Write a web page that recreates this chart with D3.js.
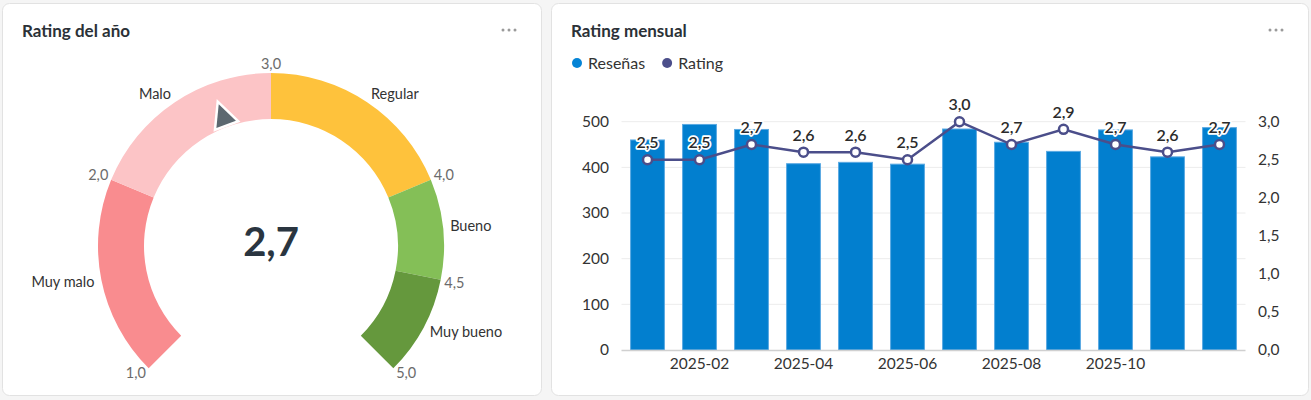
<!DOCTYPE html>
<html>
<head>
<meta charset="utf-8">
<script src="https://cdn.jsdelivr.net/npm/d3@7"></script>
<style>
  body { margin: 0; background: #f5f5f5; font-family: Lato, "Open Sans", sans-serif; }
  svg { display: block; }
</style>
</head>
<body>
<svg id="chart-svg" width="1311" height="400"></svg>
<script>
// gauge data
const bandNames = ["Muy malo", "Malo", "Regular", "Bueno", "Muy bueno"];
const bandStops = [1, 2, 3, 4, 4.5, 5];
const bandColors = ["#f98c8f", "#fcc4c6", "#fec23c", "#84bf57", "#65983d"];
const gaugeValue = 2.7;

// monthly data
const months = ["2025-01", "2025-02", "2025-03", "2025-04", "2025-05", "2025-06",
                "2025-07", "2025-08", "2025-09", "2025-10", "2025-11", "2025-12"];
const resenas = [460, 494, 483, 408, 411, 407, 484, 455, 435, 482, 423, 487];
const rating = [2.5, 2.5, 2.7, 2.6, 2.6, 2.5, 3.0, 2.7, 2.9, 2.7, 2.6, 2.7];
const xTickLabels = ["2025-02", "2025-04", "2025-06", "2025-08", "2025-10"];
const leftTicks = [0, 100, 200, 300, 400, 500];
const rightTicks = [0, 0.5, 1, 1.5, 2, 2.5, 3];

const es = d3.formatLocale({ decimal: ",", thousands: ".", grouping: [3], currency: ["", " €"] });
const f1 = es.format(".1f");

const svg = d3.select("#chart-svg");

// cards
function card(x, w, title) {
  svg.append("rect").attr("x", x + 0.5).attr("y", 3.5).attr("width", w).attr("height", 392)
     .attr("rx", 7).attr("fill", "#fff").attr("stroke", "#e2e2e2");
  svg.append("text").attr("x", x + 20).attr("y", 37).text(title)
     .attr("font-size", 17).attr("font-weight", 700).attr("fill", "#2b3137");
  [0, 6, 12].forEach(function(d) {
    svg.append("circle").attr("cx", x + w - 38 + d).attr("cy", 30).attr("r", 1.5).attr("fill", "#9a9a9a");
  });
}
card(2, 539, "Rating del año");
card(551, 757, "Rating mensual");

// ---- gauge ----
const cx = 271, cy = 246, rIn = 127, rOut = 173;
const ang = d3.scaleLinear().domain([1, 5]).range([-135 * Math.PI / 180, 135 * Math.PI / 180]);
const arc = d3.arc().innerRadius(rIn).outerRadius(rOut);
const g = svg.append("g").attr("transform", "translate(" + cx + "," + cy + ")");

bandNames.forEach(function(name, i) {
  g.append("path")
   .attr("d", arc({ startAngle: ang(bandStops[i]), endAngle: ang(bandStops[i + 1]) }))
   .attr("fill", bandColors[i]);
  const a = (ang(bandStops[i]) + ang(bandStops[i + 1])) / 2;
  const shift = (i === 1 || i === 2) ? -2 : (i === 0 || i === 4) ? 1 : -2;
  g.append("text")
   .attr("x", 180 * Math.sin(a)).attr("y", -180 * Math.cos(a) + shift)
   .attr("dy", "0.35em")
   .attr("text-anchor", a < 0 ? "end" : "start")
   .attr("font-size", 14.5).attr("fill", "#333").text(name);
});

bandStops.forEach(function(v) {
  const a = ang(v);
  const r = v === 3 ? 182 : 187;
  let ox = 0, oy = 0;
  if (v === 1) { ox = -3; oy = -5; }
  if (v === 5) { ox = 3; oy = -5; }
  g.append("text")
   .attr("x", r * Math.sin(a) + ox).attr("y", -r * Math.cos(a) + oy)
   .attr("dy", "0.35em").attr("text-anchor", "middle")
   .attr("font-size", 14.5).attr("fill", "#6b6b6b").text(f1(v));
});

// pointer
const pa = ang(gaugeValue);
function pt(r, da) { const a = pa + da; return [r * Math.sin(a), -r * Math.cos(a)]; }
const tri = [pt(151, 0), pt(130, -0.08), pt(130, 0.08)];
g.append("path")
 .attr("d", "M" + tri.join("L") + "Z")
 .attr("fill", "#5c6870").attr("stroke", "#fff").attr("stroke-width", 5)
 .attr("stroke-linejoin", "miter").attr("paint-order", "stroke");

g.append("text").attr("y", -4).attr("dy", "0.35em").attr("text-anchor", "middle")
 .attr("font-size", 40).attr("font-weight", 700).attr("fill", "#2a3540").text(f1(gaugeValue));

// ---- monthly chart ----
const x = d3.scaleBand().domain(months).range([621.5, 1245.5]).paddingInner(0.33).paddingOuter(0.165);
const yL = d3.scaleLinear().domain([0, 500]).range([350, 121.7]);
const yR = d3.scaleLinear().domain([0, 3]).range([350, 121.7]);

const c = svg.append("g");

c.selectAll(".grid").data(leftTicks.slice(1)).enter().append("line")
 .attr("x1", 621.5).attr("x2", 1245.5)
 .attr("y1", function(d) { return yL(d); }).attr("y2", function(d) { return yL(d); })
 .attr("stroke", "#ececec").attr("stroke-width", 1);

c.selectAll(".bar").data(resenas).enter().append("rect")
 .attr("x", function(d, i) { return x(months[i]) + 0.5; })
 .attr("width", x.bandwidth() - 1)
 .attr("y", function(d) { return yL(d); })
 .attr("height", function(d) { return yL(0) - yL(d); })
 .attr("fill", "#027fcf").attr("stroke", "#5aa9e2").attr("stroke-width", 1);

c.append("line").attr("x1", 621.5).attr("x2", 1245.5).attr("y1", 350.5).attr("y2", 350.5)
 .attr("stroke", "#d0d0d0").attr("stroke-width", 1.5);

const axisL = d3.axisLeft(yL).tickValues(leftTicks).tickSize(0).tickPadding(0).tickFormat(d3.format("d"));
const gl = c.append("g").attr("transform", "translate(609,0)").call(axisL);
const axisR = d3.axisRight(yR).tickValues(rightTicks).tickSize(0).tickPadding(0).tickFormat(f1);
const gr = c.append("g").attr("transform", "translate(1258,0)").call(axisR);
const axisB = d3.axisBottom(x).tickValues(xTickLabels).tickSize(0).tickPadding(0);
const gb = c.append("g").attr("transform", "translate(0,358)").call(axisB);
[gl, gr, gb].forEach(function(a) {
  a.select(".domain").remove();
  a.selectAll("text").attr("font-family", "Lato").attr("font-size", 15.5).attr("fill", "#333");
});
gb.selectAll("text").attr("dy", "0.71em");

const line = d3.line()
  .x(function(d, i) { return x(months[i]) + x.bandwidth() / 2; })
  .y(function(d) { return yR(d); });
c.append("path").datum(rating).attr("d", line)
 .attr("fill", "none").attr("stroke", "#4b4e8a").attr("stroke-width", 2.5);

c.selectAll(".pt").data(rating).enter().append("circle")
 .attr("cx", function(d, i) { return x(months[i]) + x.bandwidth() / 2; })
 .attr("cy", function(d) { return yR(d); })
 .attr("r", 4.5).attr("fill", "#fff").attr("stroke", "#4b4e8a").attr("stroke-width", 2.5);

c.selectAll(".lbl").data(rating).enter().append("text")
 .attr("x", function(d, i) { return x(months[i]) + x.bandwidth() / 2; })
 .attr("y", function(d) { return yR(d) - 17; })
 .attr("dy", "0.35em").attr("text-anchor", "middle")
 .attr("font-size", 16).attr("font-weight", 600).attr("fill", "#2b2b2b")
 .attr("stroke", "#fff").attr("stroke-width", 3.5).attr("stroke-linejoin", "round")
 .attr("paint-order", "stroke")
 .text(function(d) { return f1(d); });

// legend
const legend = [["Reseñas", "#0584d6"], ["Rating", "#4b4e8a"]];
let lx = 577;
legend.forEach(function(l) {
  svg.append("circle").attr("cx", lx).attr("cy", 63).attr("r", 5).attr("fill", l[1]);
  const t = svg.append("text").attr("x", lx + 11).attr("y", 63).attr("dy", "0.35em")
    .attr("font-size", 16).attr("fill", "#333").text(l[0]);
  lx += 11 + t.node().getComputedTextLength() + 22;
});
</script>
</body>
</html>
